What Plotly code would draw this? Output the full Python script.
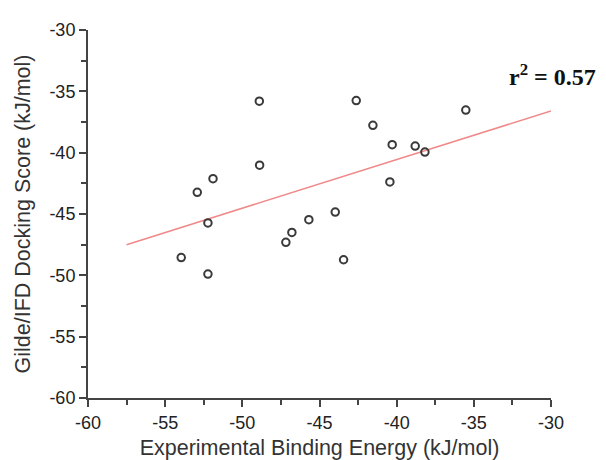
import plotly.graph_objects as go

# Experimental binding energy (x) vs Glide/IFD docking score (y), kJ/mol
exp_energy = [-53.96, -52.23, -52.23, -52.92, -51.9, -48.9, -48.88, -47.18, -46.79,
              -45.69, -43.98, -43.44, -42.62, -41.54, -40.44, -40.29, -38.8, -38.17,
              -35.52, -29.56]
dock_score = [-48.55, -49.9, -45.73, -43.23, -42.12, -35.8, -41.02, -47.31, -46.5,
              -45.46, -44.84, -48.73, -35.75, -37.77, -42.39, -39.35, -39.46, -39.95,
              -36.53, -38.06]

# regression line end points
fit_x = [-57.5, -30.0]
fit_y = [-47.5, -36.6]

x_ticks = [-60, -55, -50, -45, -40, -35, -30]
y_ticks = [-60, -55, -50, -45, -40, -35, -30]
r2_label = "r<sup>2</sup> = 0.57"

fig = go.Figure()
fig.add_trace(go.Scatter(x=fit_x, y=fit_y, mode="lines", cliponaxis=False,
                         line=dict(color="#f08a8a", width=1.5), hoverinfo="skip"))
fig.add_trace(go.Scatter(x=exp_energy, y=dock_score, mode="markers", cliponaxis=False,
                         marker=dict(symbol="circle-open", size=7.5, color="#3a3a3a",
                                     line=dict(width=2, color="#3a3a3a"))))

axis_common = dict(
    showgrid=False, zeroline=False, showline=True, linecolor="#444", linewidth=2,
    ticks="outside", ticklen=7, tickwidth=2, tickcolor="#444",
    tickfont=dict(family="Liberation Sans, Arial", size=18, color="#222"),
    minor=dict(ticks="outside", ticklen=5, tickwidth=2, tickcolor="#444", dtick=2.5),
    mirror=False,
)

fig.update_xaxes(range=[-60, -30], tickvals=x_ticks, ticktext=[str(v) for v in x_ticks],
                 title=dict(text="Experimental Binding Energy (kJ/mol)", standoff=8,
                            font=dict(family="Liberation Sans, Arial", size=21.5, color="#333")),
                 **axis_common)
fig.update_yaxes(range=[-60, -30], tickvals=y_ticks, ticktext=[str(v) for v in y_ticks],
                 title=dict(text="Gilde/IFD Docking Score (kJ/mol)", standoff=13,
                            font=dict(family="Liberation Sans, Arial", size=21.5, color="#333")),
                 **axis_common)

fig.add_annotation(x=0.904, y=-33.7, xref="paper", yref="y", text="<b>" + r2_label + "</b>",
                   showarrow=False, xanchor="left", yanchor="middle",
                   font=dict(family="Liberation Serif, Times New Roman", size=24, color="#111"))

fig.update_layout(
    width=606, height=460, showlegend=False,
    plot_bgcolor="white", paper_bgcolor="white",
    margin=dict(l=80, r=63, t=21, b=67),
)

fig.write_html("out.html")
